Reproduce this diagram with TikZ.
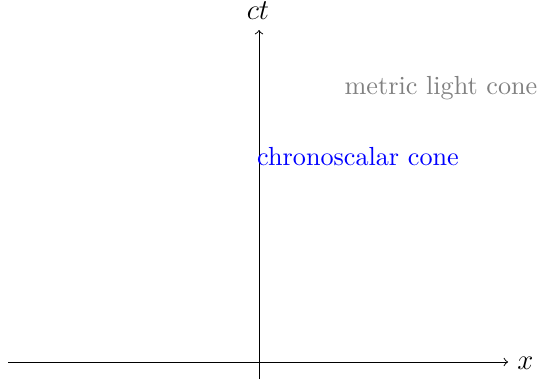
\documentclass[tikz,border=0pt]{standalone}
\begin{document}
\begin{tikzpicture}[x=0.4167pt,y=-0.4167pt,
  axis/.style={->},
  lbl/.style={inner sep=0pt},
  txt/.style={inner sep=0pt,font=\fontsize{10.9pt}{13pt}\selectfont}]
\useasboundingbox (0,0) rectangle (540,381);
\coordinate (xs) at (8,362);
\coordinate (xe) at (508,362);
\coordinate (ys) at (259,379);
\coordinate (ye) at (259,30);
\draw[axis] (xs) -- (xe);
\draw[axis] (ys) -- (ye);
\node[lbl,anchor=base west] (xl) at (517,369.5) {\large $x$};
\node[lbl,anchor=base] (ctl) at (258,19.5) {\large $ct$};
\node[txt,text=gray] (mlc) at (441,88) {metric light cone};
\node[txt,text=blue] (csc) at (358,157) {chronoscalar cone};
\end{tikzpicture}
\end{document}
